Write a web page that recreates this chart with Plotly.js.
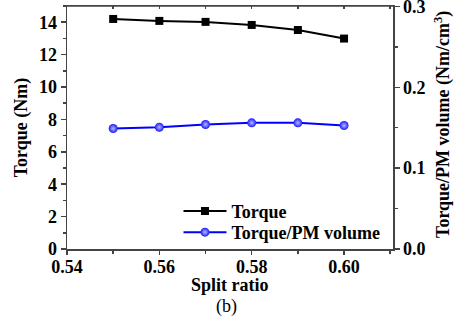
<!DOCTYPE html>
<html>
<head>
<meta charset="utf-8">
<script src="https://cdn.plot.ly/plotly-3.0.1.min.js"></script>
<style>
html,body{margin:0;padding:0;background:#fff;}
#chart{width:454px;height:322px;}
#chart .xtick text, #chart .ytick text, #chart .y2tick text{font-weight:bold !important;}
</style>
</head>
<body>
<div id="chart"></div>
<script>
// Split ratio sweep
const splitRatio = [0.55, 0.56, 0.57, 0.58, 0.59, 0.60];
// Output torque (Nm)
const torque = [14.2, 14.08, 14.02, 13.83, 13.52, 12.99];
// Torque per unit PM volume (Nm/cm^3)
const torquePerPM = [0.149, 0.1506, 0.154, 0.156, 0.156, 0.1527];

// Axis tick positions and labels
const xTicks = [0.54, 0.56, 0.58, 0.60];
const xTickLabels = ['0.54', '0.56', '0.58', '0.60'];
const yTicks = [0, 2, 4, 6, 8, 10, 12, 14];
const yTickLabels = ['0', '2', '4', '6', '8', '10', '12', '14'];
const y2Ticks = [0, 0.1, 0.2, 0.3];
const y2TickLabels = ['0.0', '0.1', '0.2', '0.3'];

const FONT = 'Liberation Serif, Times New Roman, serif';
const AX = '#444';
const bold = s => '<b>' + s + '</b>';

const traces = [
  {
    x: splitRatio, y: torque, name: bold('Torque'), type: 'scatter', mode: 'lines+markers',
    line: {color: '#000', width: 2},
    marker: {symbol: 'square', size: 8, color: '#000'},
    yaxis: 'y', legend: 'legend'
  },
  {
    x: splitRatio, y: torquePerPM, name: bold('Torque/PM volume'), type: 'scatter', mode: 'lines+markers',
    line: {color: '#0000ff', width: 2},
    marker: {symbol: 'circle', size: 9, color: '#1a1aff', gradient: {type: 'radial', color: '#b8b8ff'}},
    yaxis: 'y2', legend: 'legend2'
  },
  // carrier for the top frame axis (not visible)
  {
    x: splitRatio, y: torque, xaxis: 'x2', yaxis: 'y', type: 'scatter', mode: 'lines',
    line: {width: 0, color: 'rgba(0,0,0,0)'}, showlegend: false, hoverinfo: 'skip'
  }
];

const tickFont = {family: FONT, size: 18, color: '#000', weight: 'bold'};
const axisCommon = {
  showline: true, linecolor: AX, linewidth: 1.5,
  ticks: 'outside', ticklen: 5, tickwidth: 1.5, tickcolor: AX,
  showgrid: false, zeroline: false, tickfont: tickFont, tickmode: 'array',
  ticklabeloverflow: 'allow'
};
const legendCommon = {
  xanchor: 'left', yanchor: 'middle', x: 0.342,
  bgcolor: 'rgba(0,0,0,0)', borderwidth: 0,
  font: {family: FONT, size: 18, color: '#000'},
  itemwidth: 43
};

const layout = {
  width: 454, height: 322,
  margin: {l: 67, r: 61, t: 6, b: 73},
  paper_bgcolor: '#fff', plot_bgcolor: '#fff',
  font: {family: FONT, color: '#000'},
  showlegend: true,
  legend: Object.assign({}, legendCommon, {y: 0.155}),
  legend2: Object.assign({}, legendCommon, {y: 0.068}),
  xaxis: Object.assign({}, axisCommon, {
    range: [0.54, 0.6106], tickvals: xTicks, ticktext: xTickLabels.map(bold),
    ticklen: 4, ticklabelstandoff: -3,
    minor: {dtick: 0.01, tick0: 0.54, ticklen: 3, tickwidth: 1.5, tickcolor: AX, ticks: 'outside'}
  }),
  // top frame edge with small inward ticks
  xaxis2: {
    overlaying: 'x', side: 'top', anchor: 'y',
    range: [0.54, 0.6106], dtick: 0.01, tick0: 0.54,
    showline: true, linecolor: AX, linewidth: 1.5,
    ticks: 'inside', ticklen: 3, tickwidth: 1.5, tickcolor: AX,
    showticklabels: false, showgrid: false, zeroline: false
  },
  yaxis: Object.assign({}, axisCommon, {
    range: [0, 15], tickvals: yTicks, ticktext: yTickLabels.map(bold),
    minor: {dtick: 1, tick0: 0, ticklen: 3, tickwidth: 1.5, tickcolor: AX, ticks: 'outside'},
    title: {text: bold('Torque (Nm)'), font: {family: FONT, size: 18, color: '#000'}, standoff: 6}
  }),
  yaxis2: Object.assign({}, axisCommon, {
    overlaying: 'y', side: 'right',
    range: [0, 0.3005], tickvals: y2Ticks, ticktext: y2TickLabels.map(bold),
    minor: {dtick: 0.05, tick0: 0, ticklen: 3, tickwidth: 1.5, tickcolor: AX, ticks: 'outside'}
  }),
  shapes: [
    {type: 'line', xref: 'paper', yref: 'paper', x0: 0, x1: 1, y0: 1, y1: 1,
     line: {color: AX, width: 1.5}, layer: 'above'}
  ],
  annotations: [
    {text: bold('Split ratio'), xref: 'paper', yref: 'paper', x: 0.5, y: -0.148,
     xanchor: 'center', yanchor: 'middle', showarrow: false,
     font: {family: FONT, size: 18, color: '#000'}},
    {text: bold('Torque/PM volume (Nm/cm<sup>3</sup>)'), xref: 'paper', yref: 'paper',
     x: 1.153, y: 0.514, xanchor: 'center', yanchor: 'middle', textangle: -90, showarrow: false,
     font: {family: FONT, size: 18, color: '#000'}},
    {text: '(b)', xref: 'paper', yref: 'paper', x: 0.49, y: -0.235,
     xanchor: 'center', yanchor: 'middle', showarrow: false,
     font: {family: FONT, size: 18, color: '#000'}}
  ]
};

Plotly.newPlot('chart', traces, layout, {displayModeBar: false, staticPlot: true});
</script>
</body>
</html>
